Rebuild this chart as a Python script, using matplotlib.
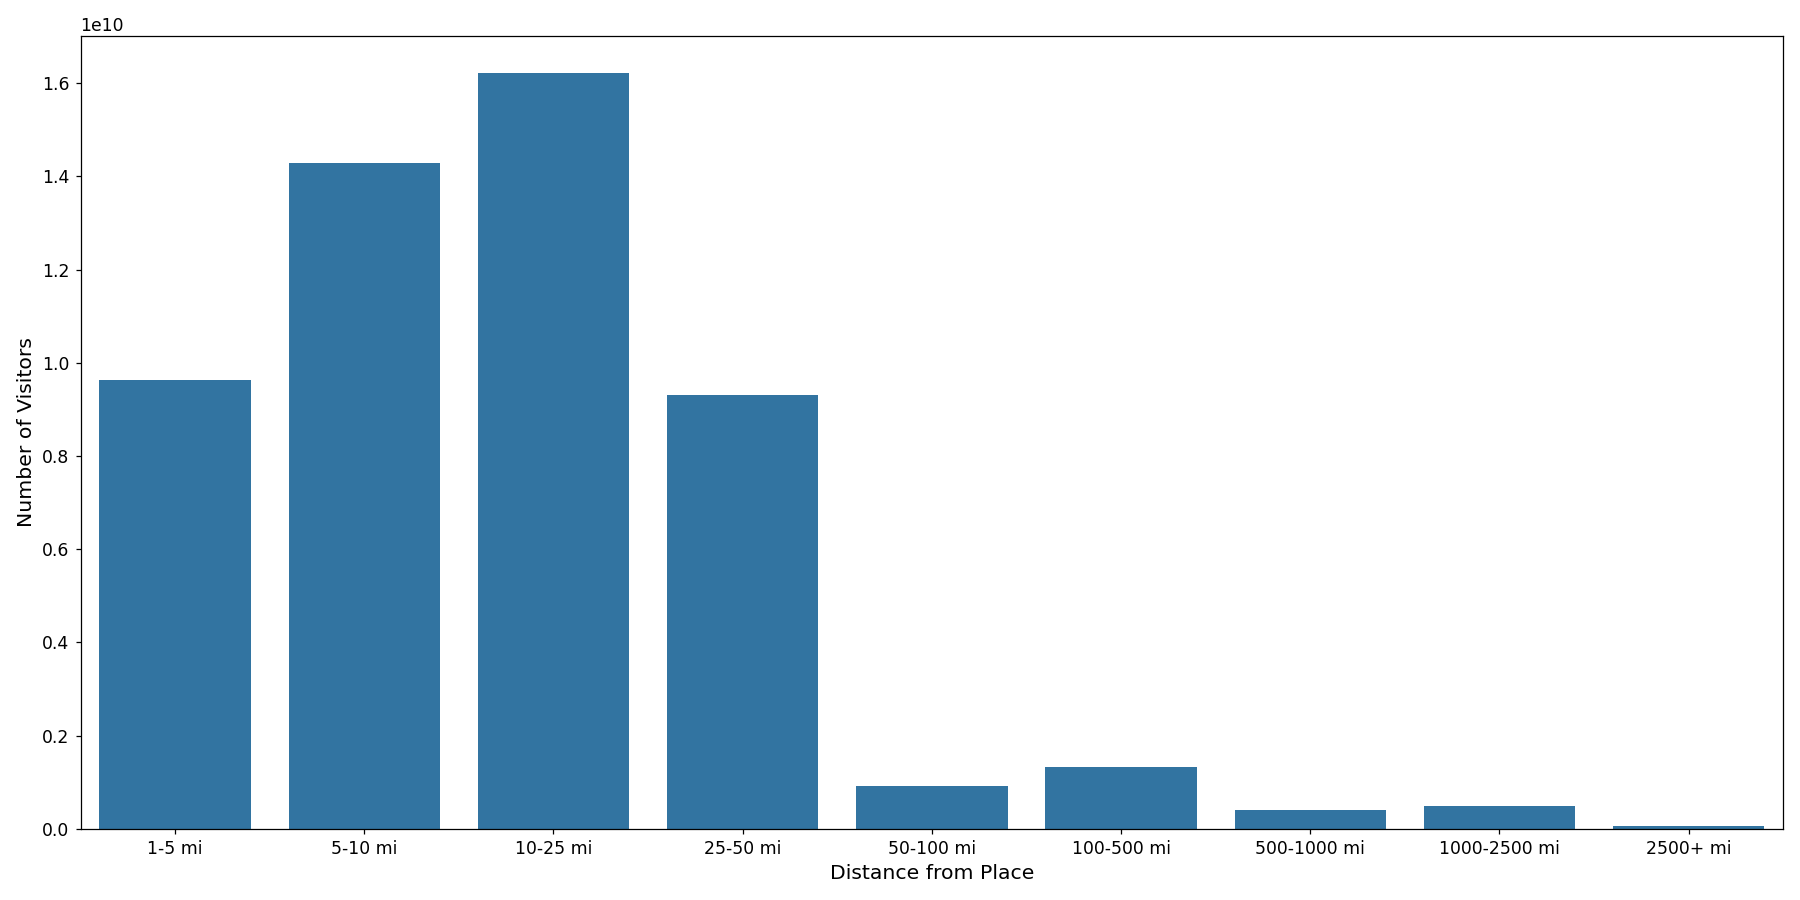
import matplotlib
matplotlib.use("Agg")
import matplotlib.pyplot as plt
import seaborn as sns

categories = ["1-5 mi", "5-10 mi", "10-25 mi", "25-50 mi", "50-100 mi",
              "100-500 mi", "500-1000 mi", "1000-2500 mi", "2500+ mi"]
visitors = [9.63e9, 14.28e9, 16.21e9, 9.31e9, 0.92e9, 1.33e9, 0.40e9, 0.50e9, 0.06e9]

fig, ax = plt.subplots(figsize=(16, 8), dpi=112.5)
sns.barplot(x=categories, y=visitors, color="#1f77b4", ax=ax)
ax.set_xlabel("Distance from Place", fontsize=13)
ax.set_ylabel("Number of Visitors", fontsize=13)
ax.tick_params(labelsize=11)
ax.yaxis.get_offset_text().set_fontsize(11)
fig.tight_layout()
fig.savefig("out.png")
